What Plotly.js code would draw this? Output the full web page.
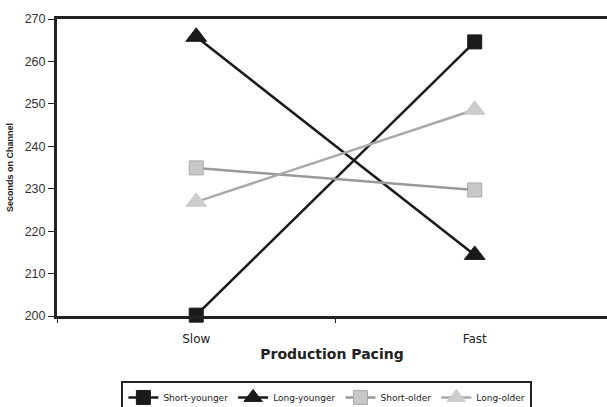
<!DOCTYPE html>
<html><head><meta charset="utf-8">
<script src="https://cdn.plot.ly/plotly-3.0.1.min.js"></script>
<style>body{margin:0;padding:0;background:#fff}#c{width:607px;height:407px}</style>
</head><body><div id="c"></div>
<script>
var categories = ['Slow', 'Fast'];
var shortYounger = [200.2, 264.6];
var longYounger = [265.8, 214.4];
var shortOlder = [234.9, 229.7];
var longOlder = [226.9, 248.6];
var seriesNames = ['Short-younger', 'Long-younger', 'Short-older', 'Long-older'];

function tr(name, y, lineColor, mColor, mLine, sym, size) {
  return {
    type: 'scatter', mode: 'lines+markers', name: name,
    x: categories, y: y,
    line: {color: lineColor, width: 2.5},
    marker: {symbol: sym, size: size, color: mColor, line: {color: mLine, width: 1}},
    cliponaxis: false
  };
}
var data = [
  tr(seriesNames[0], shortYounger, '#1a1a1a', '#1a1a1a', '#1a1a1a', 'square', 14),
  tr(seriesNames[1], longYounger, '#1a1a1a', '#1a1a1a', '#1a1a1a', 'triangle-up', 18),
  tr(seriesNames[2], shortOlder, '#999999', '#c8c8c8', '#aaaaaa', 'square', 14),
  tr(seriesNames[3], longOlder, '#aaaaaa', '#cccccc', '#cccccc', 'triangle-up', 18)
];
var layout = {
  width: 607, height: 407,
  margin: {l: 57, r: 0, t: 19, b: 91},
  paper_bgcolor: '#fff', plot_bgcolor: '#fff',
  font: {family: 'Liberation Sans, Arial, sans-serif', color: '#222'},
  showlegend: true,
  xaxis: {
    type: 'category', range: [-0.5, 1.475],
    showgrid: false, zeroline: false,
    showline: true, linecolor: '#222', linewidth: 3, mirror: true,
    ticks: 'outside', tickson: 'boundaries', ticklen: 4, tickcolor: '#222', tickwidth: 1,
    ticklabelstandoff: 10,
    tickfont: {family: 'DejaVu Sans, sans-serif', size: 12, color: '#222'},
    title: {text: '<b>Production Pacing</b>', font: {family: 'DejaVu Sans, sans-serif', size: 14, color: '#222'}, standoff: 4}
  },
  yaxis: {
    range: [200, 270], tickvals: [200, 210, 220, 230, 240, 250, 260, 270],
    showgrid: false, zeroline: false,
    showline: true, linecolor: '#222', linewidth: 3,
    ticks: 'outside', ticklen: 6, tickcolor: '#222', tickwidth: 1,
    tickfont: {size: 12.5, color: '#333'},
    title: {text: '<b>Seconds on Channel</b>', font: {size: 9, color: '#222'}, standoff: 10}
  },
  legend: {
    orientation: 'h', xref: 'container', yref: 'container',
    x: 0.2, xanchor: 'left', y: 0.064, yanchor: 'top',
    bordercolor: '#222', borderwidth: 2, bgcolor: '#fff',
    font: {family: 'DejaVu Sans, sans-serif', size: 9, color: '#222'},
    itemwidth: 30, tracegroupgap: 0
  }
};
Plotly.newPlot('c', data, layout, {displayModeBar: false, staticPlot: true});
</script></body></html>
